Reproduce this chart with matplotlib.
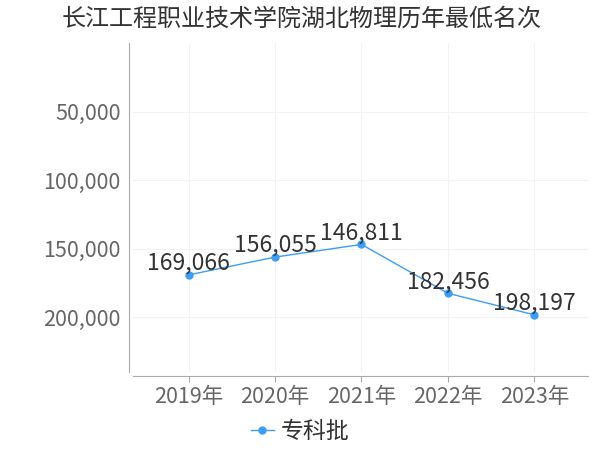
import matplotlib.pyplot as plt
from matplotlib.ticker import FuncFormatter

plt.rcParams['font.family'] = ['Noto Sans CJK SC', 'DejaVu Sans']

years = ["2019年", "2020年", "2021年", "2022年", "2023年"]
ranks = [169066, 156055, 146811, 182456, 198197]
series_name = "专科批"
title = "长江工程职业技术学院湖北物理历年最低名次"

color = "#3d9df5"

fig = plt.figure(figsize=(6, 4.5), dpi=100)
ax = fig.add_axes([0.222, 0.173, 0.758, 0.731])

x = list(range(len(years)))
ax.plot(x, ranks, color=color, linewidth=1, marker="o", markersize=5, label=series_name)

for xi, v in zip(x, ranks):
    ax.annotate(f"{v:,}", (xi, v), xytext=(0, 0), textcoords="offset points",
                ha="center", va="bottom", fontsize=16.5, color="#333333")

ax.set_ylim(240000, 0)
ax.set_yticks([50000, 100000, 150000, 200000])
ax.yaxis.set_major_formatter(FuncFormatter(lambda v, p: f"{int(v):,}"))
ax.set_xlim(-0.64, 4.62)
ax.set_xticks(x)
ax.set_xticklabels(years)

ax.grid(True, color="#f2f2f2", linewidth=0.8)
ax.set_axisbelow(True)
for s in ["top", "right"]:
    ax.spines[s].set_visible(False)
ax.spines["left"].set_color("#aaaaaa")
ax.spines["bottom"].set_color("#aaaaaa")
ax.spines["left"].set_position(("outward", 3))
ax.spines["bottom"].set_position(("outward", 3))
ax.tick_params(axis="y", length=0, labelsize=15.5, labelcolor="#666666", pad=6)
ax.tick_params(axis="x", length=4, color="#aaaaaa", labelsize=15.5, labelcolor="#666666", pad=3)

fig.text(0.502, 0.958, title, ha="center", va="center", fontsize=17.3, color="#333333")
fig.legend(loc="center", bbox_to_anchor=(0.5, 0.04), frameon=False, fontsize=16.5,
           handlelength=1.0, handletextpad=0.3, labelcolor="#333333")

fig.savefig("out.png")
